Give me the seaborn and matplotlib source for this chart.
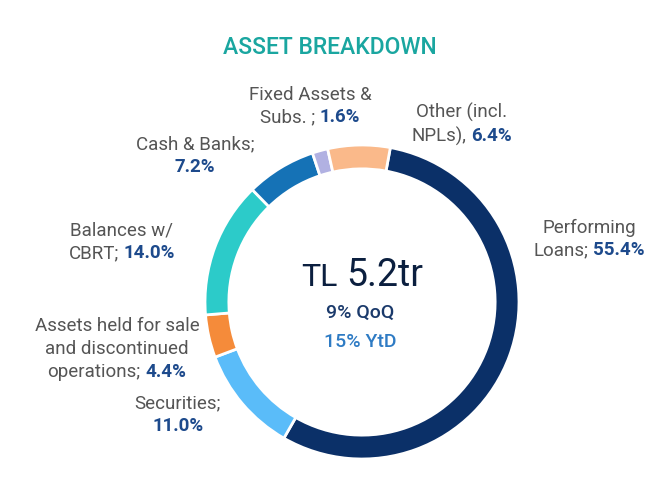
import matplotlib
matplotlib.use("Agg")
import matplotlib.pyplot as plt
import seaborn as sns
from matplotlib.offsetbox import TextArea, HPacker, VPacker, AnnotationBbox

# ---------------- data ----------------
categories = ["Performing Loans", "Securities",
              "Assets held for sale and discontinued operations",
              "Balances w/ CBRT", "Cash & Banks",
              "Fixed Assets & Subs.", "Other (incl. NPLs)"]
shares = [55.4, 11.0, 4.4, 14.0, 7.2, 1.6, 6.4]
# label text lines; the value is appended to the last line (or put on its own line if last is "")
label_lines = [
    ["Performing", "Loans;"],
    ["Securities;", ""],
    ["Assets held for sale", "and discontinued", "operations;"],
    ["Balances w/", "CBRT;"],
    ["Cash & Banks;", ""],
    ["Fixed Assets &", "Subs. ;"],
    ["Other (incl.", "NPLs),"],
]
title = "ASSET BREAKDOWN"
center_prefix = "TL"
center_value = "5.2tr"
growth_qoq = "9% QoQ"
growth_ytd = "15% YtD"

# ---------------- style ----------------
colors = ["#0B3068", "#5ABCF9", "#F58B3A", "#2CCBC9", "#1572B6", "#B1B1E2", "#FAB98A"]
# label anchor positions (pixels in the 670x494 canvas)
label_pos_px = [(589, 239), (178, 415), (117, 349), (122, 242), (195, 156), (310, 106), (462, 124)]

W, H, DPI = 670, 494, 100
CX, CY, R = 362, 302, 157

sns.set_theme(style="white")
plt.rcParams['font.family'] = ['Roboto', 'DejaVu Sans']

fig = plt.figure(figsize=(W / DPI, H / DPI), dpi=DPI)
fig.patch.set_facecolor("white")
ax = fig.add_axes([0, 0, 1, 1])

ax.pie(shares, colors=colors, startangle=79.6, counterclock=False, radius=1.0,
       wedgeprops=dict(width=0.152, edgecolor="white", linewidth=2))
ax.set_xlim(-CX / R, (W - CX) / R)
ax.set_ylim((CY - H) / R, CY / R)
ax.set_aspect("auto")
ax.axis("off")


def px2data(px, py):
    return ((px - CX) / R, (CY - py) / R)


gray = "#555555"
valcol = "#1D4A8C"
lab_fs = 13.5

for lines, val, (px, py) in zip(label_lines, shares, label_pos_px):
    rows = []
    vtxt = f"{val:.1f}%"
    for i, ln in enumerate(lines):
        last = i == len(lines) - 1
        if last and ln:
            rows.append(HPacker(children=[
                TextArea(ln, textprops=dict(color=gray, fontsize=lab_fs)),
                TextArea(vtxt, textprops=dict(color=valcol, fontsize=lab_fs, fontweight="bold"))],
                align="baseline", pad=0, sep=3.5))
        elif last:
            rows.append(TextArea(vtxt, textprops=dict(color=valcol, fontsize=lab_fs, fontweight="bold")))
        else:
            rows.append(TextArea(ln, textprops=dict(color=gray, fontsize=lab_fs)))
    box = VPacker(children=rows, align="center", pad=0, sep=3.5)
    ab = AnnotationBbox(box, px2data(px, py), xycoords="data", frameon=False,
                        box_alignment=(0.5, 0.5), pad=0)
    ax.add_artist(ab)

# center text
big = HPacker(children=[
    TextArea(center_prefix, textprops=dict(color="#0B1F3F", fontsize=23)),
    TextArea(center_value, textprops=dict(color="#0B1F3F", fontsize=27))],
    align="baseline", pad=0, sep=6)
ax.add_artist(AnnotationBbox(big, px2data(362, 276), xycoords="data", frameon=False,
                             box_alignment=(0.5, 0.5), pad=0))
ax.text(*px2data(360, 313), growth_qoq, ha="center", va="center", fontsize=14,
        color="#1B3A6B", fontweight="medium")
ax.text(*px2data(360, 342), growth_ytd, ha="center", va="center", fontsize=14,
        color="#2E7BC4", fontweight="medium")

# title
ax.text(*px2data(330, 48), title, ha="center", va="center", fontsize=16.5,
        color="#1AA6A0", fontweight="medium")

fig.savefig("out.png", dpi=DPI, facecolor="white")
